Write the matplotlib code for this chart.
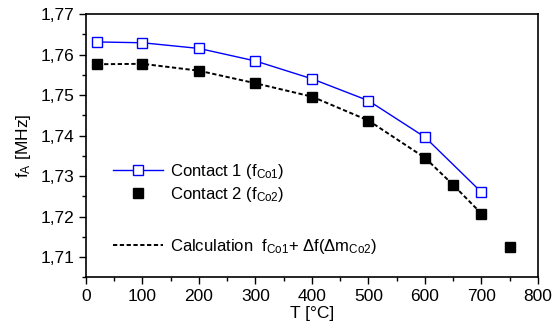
import matplotlib
matplotlib.use("Agg")
from matplotlib import pyplot as plt
from matplotlib.lines import Line2D
from matplotlib.ticker import FuncFormatter, MultipleLocator

plt.rcParams['font.family'] = ['Liberation Sans', 'DejaVu Sans']
plt.rcParams['mathtext.fontset'] = 'custom'
plt.rcParams['mathtext.rm'] = 'Liberation Sans'
plt.rcParams['mathtext.it'] = 'Liberation Sans'

# Contact 1 (open squares)
t_c1 = [20, 100, 200, 300, 400, 500, 600, 700]
f_c1 = [1.7631, 1.7629, 1.7615, 1.7584, 1.7540, 1.7486, 1.7396, 1.7260]

# Contact 2 (filled squares)
t_c2 = [20, 100, 200, 300, 400, 500, 600, 650, 700, 750]
f_c2 = [1.7576, 1.7577, 1.7560, 1.7529, 1.7496, 1.7437, 1.7345, 1.7278, 1.7207, 1.7125]

# calculation f_Co1 + delta f
t_calc = [20, 100, 200, 300, 400, 500, 600, 650, 700]
f_calc = [1.7576, 1.7577, 1.7560, 1.7529, 1.7496, 1.7437, 1.7345, 1.7278, 1.7207]

dash = (0, (2.2, 1.3))

fig = plt.figure(figsize=(5.54, 3.31), dpi=100)
ax = fig.add_axes([0.1552, 0.1622, 0.8159, 0.7955])

ax.plot(t_calc, f_calc, color='black', linestyle=dash, linewidth=1.4, zorder=2)
ax.plot(t_c1, f_c1, color='#0000ff', linewidth=1.0, marker='s', markersize=6.5,
        markerfacecolor='white', markeredgecolor='#0000ff', markeredgewidth=1.0, zorder=3)
ax.plot(t_c2, f_c2, linestyle='none', marker='s', markersize=6.5,
        markerfacecolor='black', markeredgecolor='black', zorder=3)

ax.set_xlim(0, 800)
ax.set_ylim(1.705, 1.77)
ax.xaxis.set_major_locator(MultipleLocator(100))
ax.xaxis.set_minor_locator(MultipleLocator(50))
ax.yaxis.set_major_locator(MultipleLocator(0.01))
ax.yaxis.set_minor_locator(MultipleLocator(0.005))
ax.yaxis.set_major_formatter(FuncFormatter(lambda v, p: f"{v:.2f}".replace('.', ',')))

ax.tick_params(which='both', direction='out', top=False, right=False, labelsize=12.5)
ax.tick_params(which='major', length=5, width=1)
ax.tick_params(which='minor', length=3, width=1)
for s in ax.spines.values():
    s.set_linewidth(1.2)

ax.set_xlabel('T [°C]', fontsize=12.5, labelpad=1)
ax.set_ylabel('f$_\\mathrm{A}$ [MHz]', fontsize=12.5, labelpad=5)

h1 = [
    Line2D([], [], color='#0000ff', linewidth=1.0, marker='s', markersize=6.5,
           markerfacecolor='white', markeredgecolor='#0000ff'),
    Line2D([], [], linestyle='none', marker='s', markersize=6.5,
           markerfacecolor='black', markeredgecolor='black'),
]
l1 = ['Contact 1 (f$_\\mathrm{Co1}$)', 'Contact 2 (f$_\\mathrm{Co2}$)']
leg1 = ax.legend(h1, l1, loc='upper left', bbox_to_anchor=(0.045, 0.465),
                 frameon=False, fontsize=12, handlelength=3.0, handletextpad=0.4,
                 labelspacing=0.25, borderaxespad=0)
ax.add_artist(leg1)

h2 = [Line2D([], [], color='black', linestyle=dash, linewidth=1.4)]
l2 = ['Calculation  f$_\\mathrm{Co1}$+ $\\Delta$f($\\Delta$m$_\\mathrm{Co2}$)']
ax.legend(h2, l2, loc='upper left', bbox_to_anchor=(0.045, 0.18),
          frameon=False, fontsize=12, handlelength=3.0, handletextpad=0.4,
          borderaxespad=0)

fig.savefig('out.png', dpi=100)
